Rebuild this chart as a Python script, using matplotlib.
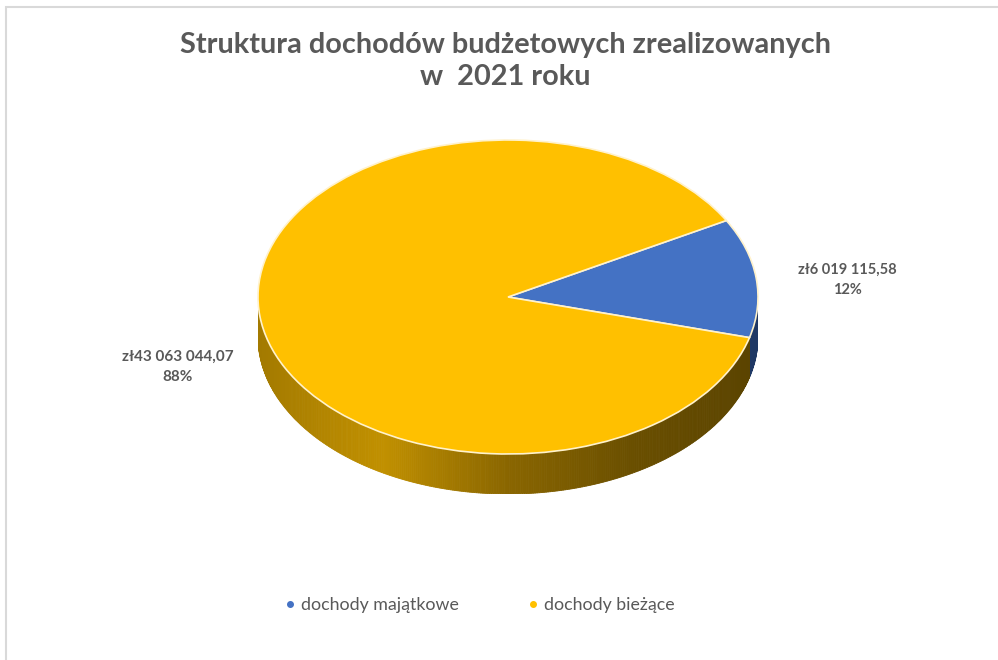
import numpy as np
import matplotlib
matplotlib.use("Agg")
import matplotlib.pyplot as plt
from matplotlib.lines import Line2D
from matplotlib.patches import Rectangle
from matplotlib.colors import LinearSegmentedColormap

plt.rcParams['font.family'] = ['Lato', 'DejaVu Sans']

# data
categories = ["dochody majątkowe", "dochody bieżące"]
values = [6019115.58, 43063044.07]
value_labels = ["zł6 019 115,58", "zł43 063 044,07"]
pct_labels = ["12%", "88%"]
title = "Struktura dochodów budżetowych zrealizowanych\nw  2021 roku"

top_colors = ["#4472C4", "#FFC000"]
side_cmaps = [
    LinearSegmentedColormap.from_list("b", ["#2F528F", "#2F528F", "#1F3864"]),
    LinearSegmentedColormap.from_list("y", ["#A37A00", "#C19000", "#8A6600", "#6A4F00", "#5A4300"]),
]
text_col = "#595959"

W, H = 998, 660
fig = plt.figure(figsize=(W / 100, H / 100), dpi=100)

# chart frame
fig.patches.append(Rectangle((6 / W, -0.05), 1.05, (H - 7) / H + 0.05, transform=fig.transFigure,
                             fill=False, edgecolor="#D9D9D9", linewidth=1.5))

# pie geometry in pixels
cx, cy_top, rx, ry, depth = 508, 140, 250, 157, 40
d = depth / ry
ax = fig.add_axes([(cx - rx) / W, (H - cy_top - 2 * ry - depth) / H, 2 * rx / W, (2 * ry + depth) / H])

start = -15
wedges, _ = ax.pie(values, colors=top_colors, startangle=start, counterclock=True,
                   wedgeprops=dict(edgecolor="#FFF2CC", linewidth=1.2))
for w in wedges:
    w.set_zorder(3)

# side wall (front half, 180..360 degrees)
total = sum(values)
a0 = start
for i, v in enumerate(values):
    a1 = a0 + v / total * 360
    lo, hi = a0 % 360, a0 % 360 + (a1 - a0)
    for off in (0, -360, 360):
        s, e = max(lo + off, 180), min(hi + off, 360)
        if e <= s:
            continue
        angs = np.linspace(s, e, max(int((e - s) / 0.5), 2))
        for t0, t1 in zip(angs[:-1], angs[1:]):
            xs = np.cos(np.radians([t0, t1]))
            ys = np.sin(np.radians([t0, t1]))
            c = side_cmaps[i]((xs.mean() + 1) / 2)
            ax.fill([xs[0], xs[1], xs[1], xs[0]], [ys[0], ys[1], ys[1] - d, ys[0] - d],
                    color=c, linewidth=0.6, edgecolor=c, zorder=2)
    a0 = a1

ax.set_aspect("auto")
ax.set_xlim(-1, 1)
ax.set_ylim(-1 - d, 1)
ax.axis("off")

# labels
fig.text(847 / W, 1 - 280 / H, value_labels[0] + "\n" + pct_labels[0], ha="center", va="center",
         fontsize=10.5, fontweight="bold", color=text_col, linespacing=1.5)
fig.text(178 / W, 1 - 367 / H, value_labels[1] + "\n" + pct_labels[1], ha="center", va="center",
         fontsize=11, fontweight="bold", color=text_col, linespacing=1.5)

fig.text(505 / W, 1 - 61 / H, title, ha="center", va="center", fontsize=20.8,
         fontweight="bold", color=text_col, linespacing=1.25)

handles = [Line2D([], [], marker="o", linestyle="none", markersize=4, color=c) for c in top_colors]
fig.legend(handles, categories, loc="center", bbox_to_anchor=(477 / W, 1 - 605 / H), ncol=2,
           frameon=False, fontsize=12.8, labelcolor=text_col, handletextpad=0.0,
           columnspacing=3.6, handlelength=1.2)

fig.savefig("out.png", dpi=100, facecolor="white")
